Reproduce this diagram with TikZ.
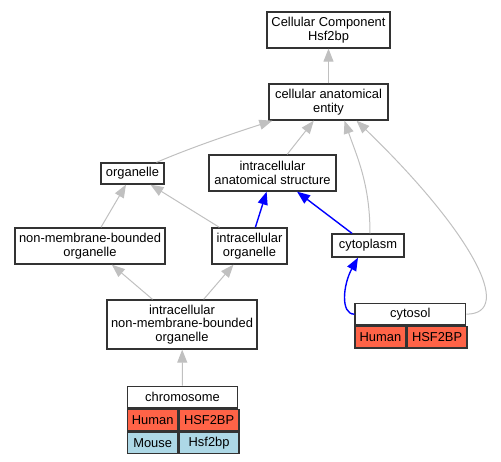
\documentclass[tikz,border=0pt]{standalone}
\usepackage{fontspec}
\setmainfont{Liberation Sans}
\usepackage{tikz}
\usetikzlibrary{calc}
\usetikzlibrary{arrows.meta}
\usetikzlibrary{positioning}

\definecolor{humanred}{HTML}{FF6347}
\definecolor{mouseblue}{HTML}{ADD8E6}
\definecolor{isagray}{HTML}{C0C0C0}
\newcommand{\termfont}{\fontsize{12.9}{13.6}\selectfont}

\begin{document}
\begin{tikzpicture}[x=1pt,y=-1pt,
    term/.style={draw=black!80,line width=1.3pt,fill=white,inner sep=0pt,align=center,font=\termfont},
    cell/.style={term,anchor=north west,minimum height=21.6pt},
    isa/.style={draw=isagray,line width=1pt,-{Triangle[length=13pt,width=10pt]}},
    partof/.style={draw=blue,line width=1.4pt,-{Triangle[length=13pt,width=10pt]}}]
    \useasboundingbox (0,0) rectangle (501,461);

    \node [term,minimum width=123pt,minimum height=36pt] (root)  at (328.5,30)    {Cellular Component\\Hsf2bp};
    \node [term,minimum width=119pt,minimum height=36pt] (cae)   at (328.5,102)   {cellular anatomical\\entity};
    \node [term,minimum width=63pt,minimum height=21pt]  (org)   at (132.5,173.5) {organelle};
    \node [term,minimum width=127pt,minimum height=36pt] (ias)   at (272.5,173)   {intracellular\\anatomical structure};
    \node [term,minimum width=150pt,minimum height=36pt] (nmbo)  at (90,246)      {non-membrane-bounded\\organelle};
    \node [term,minimum width=75pt,minimum height=36pt]  (io)    at (249.5,246)   {intracellular\\organelle};
    \node [term,minimum width=72pt,minimum height=23pt]  (cyto)  at (368,245.5)   {cytoplasm};
    \node [term,minimum width=150pt,minimum height=49pt] (inmbo) at (182,324.5)   {intracellular\\non-membrane-bounded\\organelle};

    \node [cell,minimum width=110.7pt] (sol) at (354.3,302.7) {cytosol};
    \node [cell,minimum width=51pt,fill=humanred]  (solhs) at (sol.south west)   {Human};
    \node [cell,minimum width=59.7pt,fill=humanred] (solhg) at (solhs.north east) {HSF2BP};

    \node [cell,minimum width=110.3pt] (chrom) at (126.7,385.7) {chromosome};
    \node [cell,minimum width=50.6pt,fill=humanred]  (chromhs) at (chrom.south west)   {Human};
    \node [cell,minimum width=59.7pt,fill=humanred]  (chromhg) at (chromhs.north east) {HSF2BP};
    \node [cell,minimum width=50.6pt,fill=mouseblue] (chrommm) at (chromhs.south west) {Mouse};
    \node [cell,minimum width=59.7pt,fill=mouseblue] (chrommg) at (chrommm.north east) {Hsf2bp};

    \draw [isa] (cae) -- (root);
    \draw [isa] ($(org.north)+(24,0)$) .. controls +(35,-15) and +(-40,13) .. ($(cae.south west)+(4,0)$);
    \draw [isa] (ias) -- (cae);
    \draw [isa] ($(cyto.north)+(2,0)$) .. controls +(0,-50) and +(12,35) .. ($(cae.south)+(16,0)$);
    \draw [isa] (sol.east) .. controls +(50,0) and +(113,109) .. ($(cae.south)+(28,0)$);
    \draw [isa] (nmbo) -- (org);
    \draw [isa] (io) -- (org);
    \draw [partof] (io) -- (ias);
    \draw [partof] (cyto) -- (ias);
    \draw [partof] (sol.west) .. controls +(-14,0) and +(-15,27) .. ($(cyto.south)+(-10,0)$);
    \draw [isa] (inmbo) -- (nmbo);
    \draw [isa] (inmbo) -- (io);
    \draw [isa] (chrom) -- (inmbo);

\end{tikzpicture}
\end{document}
